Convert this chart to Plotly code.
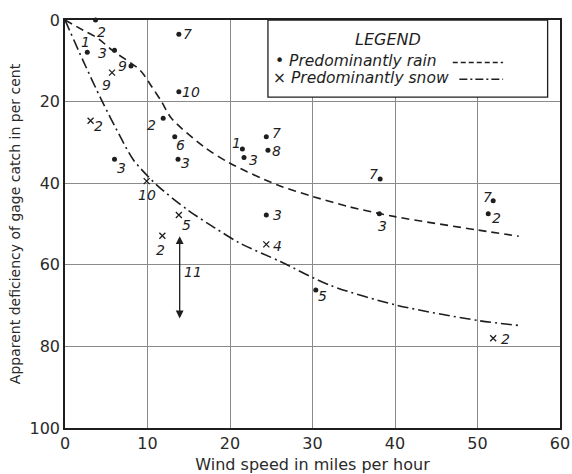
import plotly.graph_objects as go

# ---- data ----
rain_x = [3.7, 2.7, 6.0, 8.0, 13.8, 13.8, 11.9, 13.3, 13.7, 6.0, 21.5, 21.7, 24.4, 24.6, 24.4, 38.2, 38.1, 51.9, 51.3, 30.4]
rain_y = [0.0, 7.9, 7.4, 11.3, 3.5, 17.6, 24.1, 28.6, 34.1, 34.1, 31.6, 33.7, 28.6, 31.9, 47.8, 39.0, 47.5, 44.3, 47.5, 66.2]
rain_labels = ["2", "1", "3", "9", "7", "10", "2", "6", "3", "3", "1", "3", "7", "8", "3", "7", "3", "7", "2", "5"]

snow_x = [3.1, 5.7, 9.9, 13.8, 11.8, 24.4, 51.9]
snow_y = [24.7, 12.9, 39.5, 47.8, 52.9, 55.0, 78.0]
snow_labels = ["2", "9", "10", "5", "2", "4", "2"]

rain_curve_x = [0, 2.2, 4.0, 5.7, 9.1, 10.5, 11.7, 12.9, 16.8, 20.0, 25.7, 30.1, 34.5, 40.0, 50.1, 55.0]
rain_curve_y = [0, 2.5, 4.5, 7.4, 12.3, 16.3, 20.0, 24.1, 31.0, 35.1, 40.4, 43.3, 45.8, 48.2, 51.5, 53.0]

snow_curve_x = [0, 2.2, 4.4, 6.7, 8.3, 11.1, 14.9, 18.2, 21.2, 26.1, 32.1, 40.2, 50.2, 55.2]
snow_curve_y = [0, 10.0, 19.5, 28.6, 34.3, 40.4, 46.6, 51.0, 54.7, 59.2, 65.0, 69.9, 73.7, 74.9]

range11_x = 13.9
range11_y = [53.0, 73.5]
range11_label = "11"

x_ticks = [0, 10, 20, 30, 40, 50, 60]
y_ticks = [0, 20, 40, 60, 80, 100]

# ---- label placement (pixel offsets of each station number from its mark) ----
rain_label_shift = [(6, 12), (-2, -10), (-12, 3), (-9, 0), (9, 0), (12, 0), (-12, 7), (6, 8), (7, 4), (7, 9),
                    (-6, -6), (9, 2), (10, -4), (9, 1), (11, 0), (-7, -5), (3, 12), (-6, -4), (8, 4), (7, 6)]
snow_label_shift = [(8, 5), (-6, 12), (0, 14), (8, 10), (-2, 14), (11, 2), (12, 1)]

INK = "#1e1e1e"
TXT = "#2a2a2a"
LBL_FONT = dict(family="DejaVu Sans", size=14, color=INK, style="italic")
LEG_FONT = dict(family="DejaVu Sans", size=16, color=INK, style="italic")
LEG_ROW_FONT = dict(family="DejaVu Sans", size=15.5, color=INK, style="italic")

fig = go.Figure()

fig.add_trace(go.Scatter(x=rain_curve_x, y=rain_curve_y, mode="lines",
                         line=dict(color=INK, width=1.6, dash="8px,5px", shape="spline", smoothing=0.8),
                         hoverinfo="skip", showlegend=False))
fig.add_trace(go.Scatter(x=snow_curve_x, y=snow_curve_y, mode="lines",
                         line=dict(color=INK, width=1.6, dash="11px,4px,2px,4px", shape="spline", smoothing=0.8),
                         hoverinfo="skip", showlegend=False))

fig.add_trace(go.Scatter(x=rain_x, y=rain_y, mode="markers",
                         marker=dict(symbol="circle", size=5, color=INK),
                         showlegend=False, cliponaxis=False))
fig.add_trace(go.Scatter(x=snow_x, y=snow_y, mode="markers",
                         marker=dict(symbol="x-thin", size=6, line=dict(color=INK, width=1.3)),
                         showlegend=False, cliponaxis=False))

for xs, ys, labels, shifts in ((rain_x, rain_y, rain_labels, rain_label_shift),
                               (snow_x, snow_y, snow_labels, snow_label_shift)):
    for xv, yv, lab, (dx, dy) in zip(xs, ys, labels, shifts):
        fig.add_annotation(x=xv, y=yv, xref="x", yref="y", text=lab, showarrow=False,
                           xanchor="center", yanchor="middle", xshift=dx, yshift=-dy, font=LBL_FONT)

# double-headed range arrow "11"
fig.add_annotation(x=range11_x, y=range11_y[0], ax=range11_x, ay=range11_y[1],
                   xref="x", yref="y", axref="x", ayref="y", text="",
                   showarrow=True, arrowside="end+start", arrowhead=2, arrowsize=1.2,
                   arrowwidth=1.3, arrowcolor=INK)
fig.add_annotation(x=range11_x, y=sum(range11_y) / 2 - 1.5, text=range11_label,
                   showarrow=False, xanchor="center", xshift=13, font=LBL_FONT)

# legend box
fig.add_shape(type="rect", xref="x", yref="y", x0=24.6, x1=58.5, y0=0, y1=18.9,
              fillcolor="white", line=dict(color=INK, width=1.3), layer="above")
fig.add_annotation(x=39.2, y=4.9, xref="x", yref="y", text="LEGEND", showarrow=False, font=LEG_FONT)
fig.add_annotation(x=25.3, y=10.1, xref="x", yref="y", xanchor="left", borderpad=0,
                   text="• Predominantly rain", showarrow=False, font=LEG_ROW_FONT)
fig.add_annotation(x=25.1, y=14.3, xref="x", yref="y", xanchor="left", borderpad=0,
                   text="× Predominantly snow", showarrow=False, font=LEG_ROW_FONT)
fig.add_shape(type="line", xref="x", yref="y", x0=47.0, x1=53.1, y0=10.4, y1=10.4,
              line=dict(color=INK, width=1.5, dash="5px,3px"), layer="above")
fig.add_shape(type="line", xref="x", yref="y", x0=47.8, x1=53.1, y0=14.5, y1=14.5,
              line=dict(color=INK, width=1.5, dash="8px,3px,2px,3px"), layer="above")

axis_common = dict(showgrid=True, gridcolor="#8a8a8a", gridwidth=1.1, zeroline=False,
                   showline=True, linecolor=INK, linewidth=1.6, mirror=True, automargin=False,
                   ticks="", tickfont=dict(family="DejaVu Sans", size=16, color=TXT))

fig.update_xaxes(range=[0, 60], tickvals=x_ticks, ticktext=[str(v) for v in x_ticks],
                 title=dict(text="Wind speed in miles per hour",
                            font=dict(family="DejaVu Sans", size=16, color=TXT), standoff=14),
                 **axis_common)
fig.update_yaxes(range=[100, 0], tickvals=y_ticks, ticktext=[str(v) for v in y_ticks],
                 title=dict(text="Apparent deficiency of gage catch in per cent",
                            font=dict(family="DejaVu Sans", size=14, color=TXT), standoff=6),
                 **axis_common)

fig.update_layout(width=572, height=474, margin=dict(l=65, r=12, t=20, b=46),
                  paper_bgcolor="white", plot_bgcolor="white", showlegend=False)

fig.write_html("out.html")
